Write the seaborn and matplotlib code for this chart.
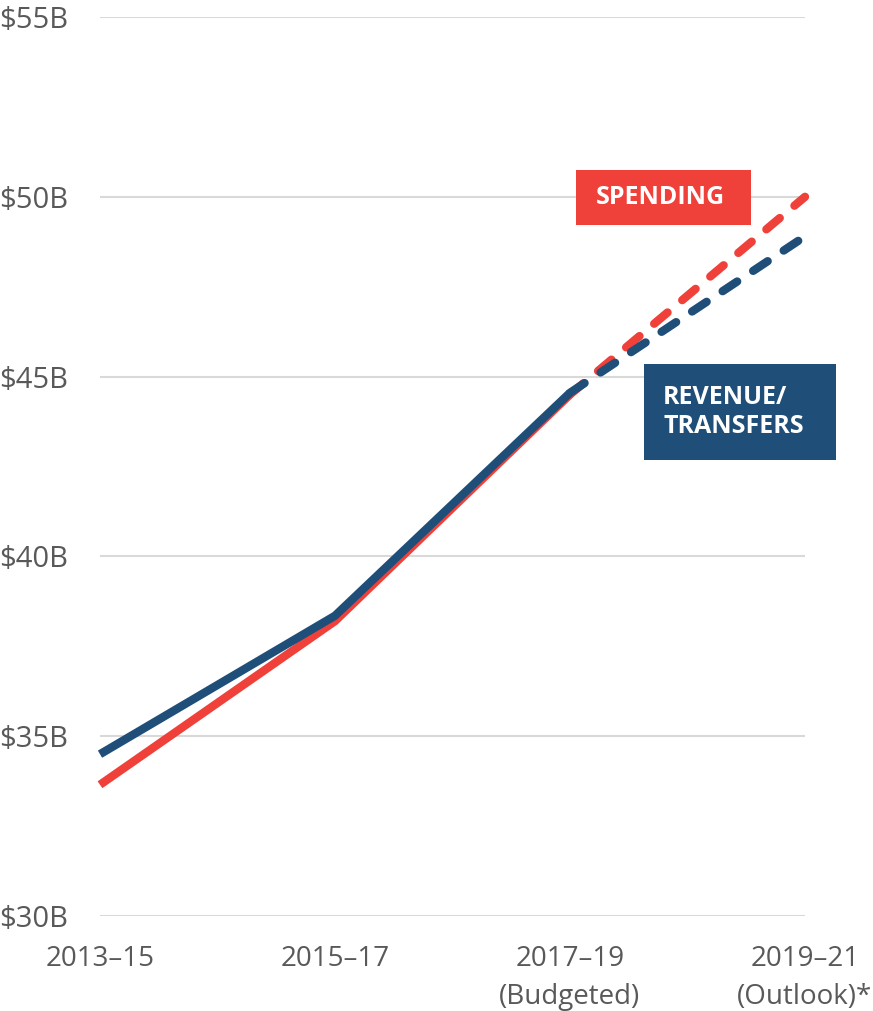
import matplotlib
matplotlib.use("Agg")
import matplotlib.pyplot as plt
from matplotlib.patches import Rectangle
import seaborn as sns
import pandas as pd

periods = ["2013–15", "2015–17", "2017–19\n(Budgeted)", "2019–21\n(Outlook)*"]
revenue = [34.5, 38.35, 44.55, 48.9]
spending = [33.65, 38.2, 44.5, 50.0]
y_ticks = [30, 35, 40, 45, 50, 55]
y_labels = ["$30B", "$35B", "$40B", "$45B", "$50B", "$55B"]

RED = "#F0403A"
BLUE = "#1F4E79"
GREY = "#595959"

sns.set_theme(style="white")
plt.rcParams["font.family"] = ["Open Sans", "DejaVu Sans"]

W, H = 873, 1011
fig = plt.figure(figsize=(W / 100, H / 100), dpi=100)
ax = fig.add_axes([100 / W, 1 - 916 / H, 705 / W, 899 / H])

df = pd.DataFrame({"x": list(range(len(periods))) * 2,
                   "value": spending + revenue,
                   "series": ["Spending"] * 4 + ["Revenue"] * 4})

for name, color in [("Spending", RED), ("Revenue", BLUE)]:
    sub = df[df["series"] == name]
    solid = sub[sub["x"] <= 2]
    dashed = sub[sub["x"] >= 2]
    sns.lineplot(data=solid, x="x", y="value", ax=ax, color=color, lw=6,
                 solid_capstyle="butt", zorder=3)
    sns.lineplot(data=dashed, x="x", y="value", ax=ax, color=color, lw=6,
                 linestyle=(0, (2.1, 2.3)), dash_capstyle="round", zorder=3)

ax.set_xlim(0, 3)
ax.set_ylim(30, 55)
ax.set_yticks(y_ticks)
ax.set_yticklabels(y_labels)
ax.set_xticks(range(len(periods)))
ax.set_xticklabels(periods, linespacing=1.45)
ax.grid(axis="y", color="#D9D9D9", lw=1.5, zorder=0)
ax.grid(axis="x", visible=False)
for s in ax.spines.values():
    s.set_visible(False)
ax.tick_params(axis="y", length=0, pad=23, labelsize=21, labelcolor=GREY)
ax.tick_params(axis="x", length=0, pad=21, labelsize=20, labelcolor=GREY)
ax.set_xlabel("")
ax.set_ylabel("")
for ln in ax.lines:
    ln.set_clip_on(False)

# label boxes
fig.patches.append(Rectangle((576 / W, 1 - 225 / H), 175 / W, 55 / H,
                             transform=fig.transFigure, fc=RED, ec="none", zorder=5))
fig.text(660 / W, 1 - 198 / H, "SPENDING", color="white", fontsize=18, fontweight="bold",
         ha="center", va="center", zorder=6)
fig.patches.append(Rectangle((644 / W, 1 - 460 / H), 192 / W, 96 / H,
                             transform=fig.transFigure, fc=BLUE, ec="none", zorder=5))
fig.text(663 / W, 1 - 412 / H, "REVENUE/\nTRANSFERS", color="white", fontsize=18,
         fontweight="bold", ha="left", va="center", linespacing=1.25, zorder=6)

fig.savefig("out.png", dpi=100)
